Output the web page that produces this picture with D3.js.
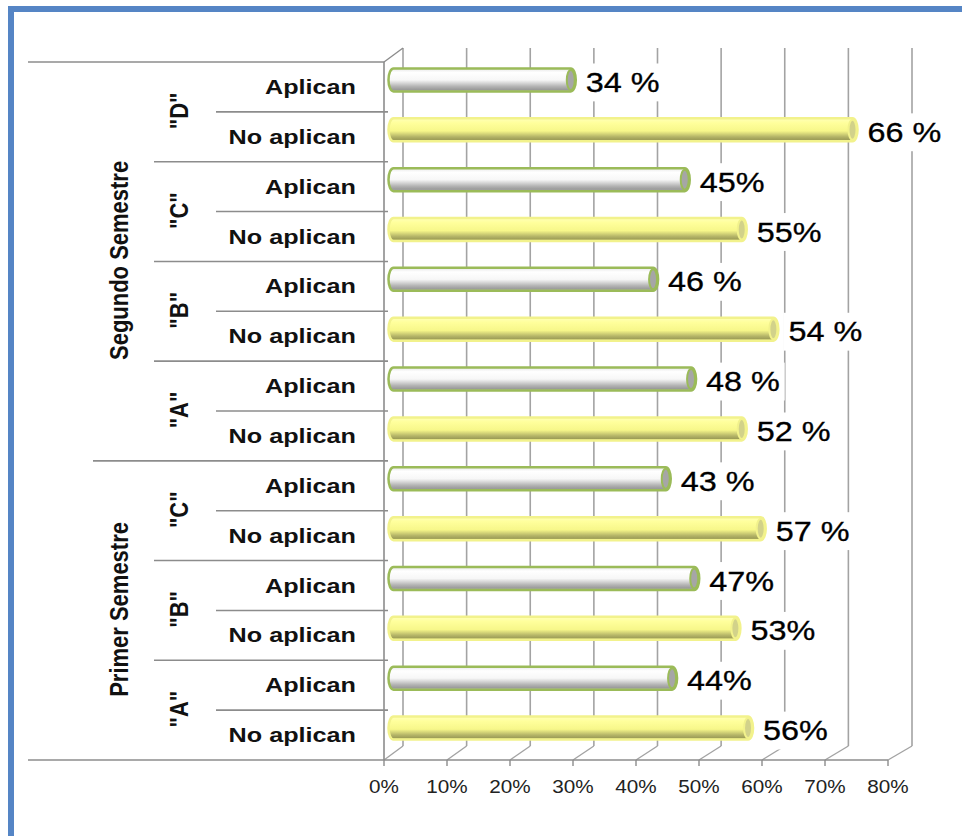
<!DOCTYPE html>
<html>
<head>
<meta charset="utf-8">
<script src="https://cdn.jsdelivr.net/npm/d3@7"></script>
<style>
  html, body { margin: 0; padding: 0; background: #fff; }
  svg { display: block; font-family: "Liberation Sans", Arial, sans-serif; }
</style>
</head>
<body>
<svg id="chart" width="962" height="836"></svg>
<script>
// data
const semesters = ["Segundo Semestre", "Primer Semestre"];
const groupNames = ['"D"', '"C"', '"B"', '"A"', '"C"', '"B"', '"A"'];
const groupSemester = [0, 0, 0, 0, 1, 1, 1];
const seriesNames = ["Aplican", "No aplican"];
const aplicanValues = [28, 46, 41, 47, 43, 47.5, 44];
const noAplicanValues = [72.5, 55, 60, 55, 58, 54, 56];
const aplicanLabels = ["34 %", "45%", "46 %", "48 %", "43 %", "47%", "44%"];
const noAplicanLabels = ["66 %", "55%", "54 %", "52 %", "57 %", "53%", "56%"];
const xTicks = [0, 10, 20, 30, 40, 50, 60, 70, 80];

// one row per bar, top to bottom
const rows = [];
groupNames.forEach((g, i) => {
    rows.push({ group: i, series: 0, value: aplicanValues[i], label: aplicanLabels[i] });
    rows.push({ group: i, series: 1, value: noAplicanValues[i], label: noAplicanLabels[i] });
});

const svg = d3.select("#chart");
const defs = svg.append("defs");

const plotTop = 62, plotBottom = 760;
const depthY = 14;
const x = d3.scaleLinear().domain([0, 80]).range([384, 888]);      // front edge
const xBack = d3.scaleLinear().domain([0, 80]).range([403, 912]);  // back wall
const xMid = v => (x(v) + xBack(v)) / 2;
const y = d3.scaleBand().domain(d3.range(rows.length)).range([plotTop, plotBottom]);
const barH = 23;
const barCy = i => y(i) + y.bandwidth() / 2 - depthY / 2;

const lineCol = "#8c8c8c";
const gridCol = "#a3a3a3";

// gradients for the cylinders
function grad(id, stops) {
    const g = defs.append("linearGradient").attr("id", id)
        .attr("x1", 0).attr("y1", 0).attr("x2", 0).attr("y2", 1);
    stops.forEach(s => g.append("stop").attr("offset", s[0]).attr("stop-color", s[1]));
}
grad("gWhite", [[0, "#e6e6e6"], [0.18, "#ffffff"], [0.5, "#f7f7f7"], [0.78, "#b4b4b4"], [0.92, "#9a9a9a"], [1, "#c4c4c4"]]);
grad("gYellow", [[0, "#ffffb8"], [0.2, "#ffff9c"], [0.55, "#f7f78a"], [0.8, "#b5b568"], [0.92, "#9e9e58"], [1, "#d6d67a"]]);
const barStyle = [
    { fill: "url(#gWhite)", stroke: "#9bbb59", cap: "#a6a6a6" },
    { fill: "url(#gYellow)", stroke: "#f2f28c", cap: "#d2d28a" }
];

// frame
svg.append("rect").attr("x", 11).attr("y", 9).attr("width", 1000).attr("height", 1000)
    .attr("fill", "none").attr("stroke", "#5585c5").attr("stroke-width", 6);

// back wall grid lines
svg.append("g").selectAll("line").data(xTicks).join("line")
    .attr("x1", d => xBack(d)).attr("x2", d => xBack(d))
    .attr("y1", plotTop - depthY).attr("y2", plotBottom - depthY)
    .attr("stroke", gridCol).attr("stroke-width", 1.6);

// floor diagonals and ticks
const floor = svg.append("g");
floor.selectAll("line.diag").data(xTicks).join("line").attr("class", "diag")
    .attr("x1", d => x(d)).attr("y1", plotBottom)
    .attr("x2", d => xBack(d)).attr("y2", plotBottom - depthY)
    .attr("stroke", gridCol).attr("stroke-width", 1.4);
floor.selectAll("line.tick").data(xTicks).join("line").attr("class", "tick")
    .attr("x1", d => x(d)).attr("x2", d => x(d))
    .attr("y1", plotBottom).attr("y2", plotBottom + 6)
    .attr("stroke", lineCol).attr("stroke-width", 1.4);
floor.append("line").attr("x1", 28).attr("x2", x(80)).attr("y1", plotBottom).attr("y2", plotBottom)
    .attr("stroke", lineCol).attr("stroke-width", 1.6);

// side wall
svg.append("line").attr("x1", x(0)).attr("x2", x(0)).attr("y1", plotTop).attr("y2", plotBottom)
    .attr("stroke", lineCol).attr("stroke-width", 1.6);
svg.append("line").attr("x1", x(0)).attr("y1", plotTop).attr("x2", xBack(0)).attr("y2", plotTop - depthY)
    .attr("stroke", lineCol).attr("stroke-width", 1.4);
svg.append("line").attr("x1", 28).attr("x2", x(0)).attr("y1", plotTop).attr("y2", plotTop)
    .attr("stroke", lineCol).attr("stroke-width", 1.6);

// category separators: row / group / semester boundaries
const seps = [];
for (let i = 1; i < rows.length; i++) {
    let x0 = 216;
    if (rows[i].group !== rows[i - 1].group) {
        x0 = groupSemester[rows[i].group] !== groupSemester[rows[i - 1].group] ? 93 : 154;
    }
    seps.push({ y: y(i), x0 });
}
svg.append("g").selectAll("line").data(seps).join("line")
    .attr("x1", d => d.x0).attr("x2", x(0) + 4)
    .attr("y1", d => d.y).attr("y2", d => d.y)
    .attr("stroke", lineCol).attr("stroke-width", 1.6);

// value labels with white background (hide grid lines behind them)
const labG = svg.append("g").selectAll("g").data(rows).join("g")
    .attr("transform", d => `translate(${xMid(d.value) + 15},${barCy(rows.indexOf(d))}) scale(1.2,1)`);
labG.append("text")
    .attr("y", 12)
    .attr("font-size", 27)
    .attr("fill", "#000")
    .attr("stroke", "#000").attr("stroke-width", 0.3)
    .text(d => d.label);
labG.each(function () {
    const b = d3.select(this).select("text").node().getBBox();
    d3.select(this).insert("rect", "text")
        .attr("x", b.x - 4).attr("y", b.y - 4)
        .attr("width", b.width + 8).attr("height", b.height + 8)
        .attr("fill", "#fff");
});

// cylinders
const bars = svg.append("g").selectAll("g").data(rows).join("g");
bars.append("rect")
    .attr("x", xMid(0) - 5)
    .attr("y", (d, i) => barCy(i) - barH / 2)
    .attr("width", d => xMid(d.value) - xMid(0) + 10)
    .attr("height", barH)
    .attr("rx", 5).attr("ry", barH / 2)
    .attr("fill", d => barStyle[d.series].fill)
    .attr("stroke", d => barStyle[d.series].stroke)
    .attr("stroke-width", 2.5);
bars.append("ellipse")
    .attr("cx", d => xMid(d.value))
    .attr("cy", (d, i) => barCy(i))
    .attr("rx", 4).attr("ry", barH / 2 - 1.5)
    .attr("fill", d => barStyle[d.series].cap)
    .attr("stroke", d => barStyle[d.series].stroke)
    .attr("stroke-width", 2);

// category labels
svg.append("g").selectAll("text").data(rows).join("text")
    .attr("transform", (d, i) => `translate(356,${y(i) + y.bandwidth() / 2 + 7}) scale(1.2,1)`)
    .attr("text-anchor", "end")
    .attr("font-size", 21).attr("font-weight", "bold").attr("fill", "#111")
    .text(d => seriesNames[d.series]);

// group labels (rotated)
svg.append("g").selectAll("text").data(groupNames).join("text")
    .attr("transform", (d, i) => `translate(188,${y(2 * i + 1) - 1}) scale(1.2,1) rotate(-90)`)
    .attr("text-anchor", "middle")
    .attr("font-size", 22).attr("font-weight", "bold").attr("fill", "#111")
    .text(d => d);

// semester labels (rotated)
svg.append("g").selectAll("text").data(semesters).join("text")
    .attr("transform", (d, s) => {
        const idx = d3.range(rows.length).filter(i => groupSemester[rows[i].group] === s);
        const cy = (y(idx[0]) + y(idx[idx.length - 1]) + y.bandwidth()) / 2;
        return `translate(128,${cy - 1}) scale(1.2,1) rotate(-90)`;
    })
    .attr("text-anchor", "middle")
    .attr("font-size", 22).attr("font-weight", "bold").attr("fill", "#111")
    .text(d => d);

// x tick labels
svg.append("g").selectAll("text").data(xTicks).join("text")
    .attr("transform", d => `translate(${x(d)},793) scale(1.15,1)`)
    .attr("text-anchor", "middle")
    .attr("font-size", 18).attr("fill", "#222")
    .text(d => d + "%");
</script>
</body>
</html>
